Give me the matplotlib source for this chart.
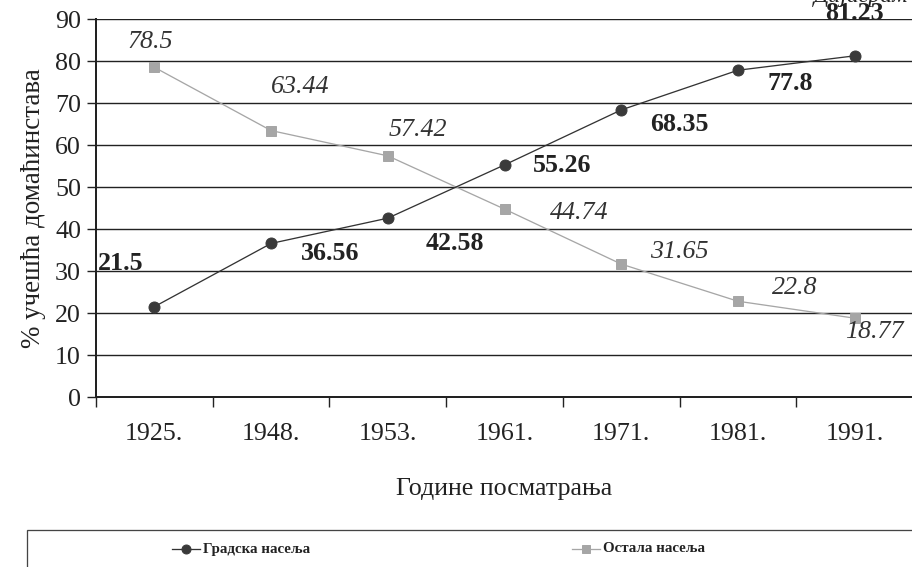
import matplotlib
matplotlib.use("Agg")
import matplotlib.pyplot as plt
from matplotlib.lines import Line2D
from matplotlib.patches import Rectangle

years = ["1925.", "1948.", "1953.", "1961.", "1971.", "1981.", "1991."]
urban = [21.5, 36.56, 42.58, 55.26, 68.35, 77.8, 81.23]
other = [78.5, 63.44, 57.42, 44.74, 31.65, 22.8, 18.77]
urban_name = "Градска насеља"
other_name = "Остала насеља"
ylabel = "% учешћа домаћинстава"
xlabel = "Године посматрања"

# label offsets in pixels (dpi=72 so points == pixels)
urban_off = [(-34, 43), (59, -10), (67, -25), (58, -1), (58, -15), (52, -13), (0, 42)]
other_off = [(-4, 25), (29, 44), (30, 26), (75, -4), (58, 12), (57, 13), (20, -14)]

plt.rcParams['font.family'] = ['Liberation Serif', 'DejaVu Serif']
W, H = 912, 567
fig = plt.figure(figsize=(W / 72, H / 72), dpi=72)
ax = fig.add_axes([96 / W, (H - 397) / H, 817 / W, (397 - 19) / H])

x = list(range(len(years)))
c_dark = "#333333"
c_gray = "#a6a6a6"
ax.plot(x, urban, color=c_dark, lw=1.3, marker='o', ms=11, mfc="#3a3a3a", mec="#3a3a3a", zorder=5)
ax.plot(x, other, color=c_gray, lw=1.3, marker='s', ms=10, mfc=c_gray, mec=c_gray, zorder=4)

for xi, v, off in zip(x, urban, urban_off):
    ax.annotate(f"{v:g}", (xi, v), xytext=off, textcoords='offset points',
                ha='center', va='center', fontsize=26, fontweight='bold', color="#222222", zorder=6)
for xi, v, off in zip(x, other, other_off):
    ax.annotate(f"{v:g}", (xi, v), xytext=off, textcoords='offset points',
                ha='center', va='center', fontsize=26, fontstyle='italic', color="#333333", zorder=6)

ax.set_xlim(-0.5, len(years) - 0.5)
ax.set_ylim(0, 90)
ax.set_yticks(range(0, 91, 10))
ax.yaxis.grid(True, color="#222222", lw=1.4)
ax.set_axisbelow(True)
ax.set_xticks(x)
ax.set_xticklabels(years, fontsize=26, color="#222222")
ax.tick_params(axis='x', which='major', length=0, pad=26)
ax.set_xticks([i + 0.5 for i in x[:-1]] + [-0.5], minor=True)
ax.tick_params(axis='x', which='minor', length=10, width=1.4, direction='out', color="#222222")
ax.tick_params(axis='y', length=9, width=1.4, direction='out', labelsize=26, labelcolor="#222222", pad=6, color="#222222")
for s in ['top', 'right']:
    ax.spines[s].set_visible(False)
ax.spines['left'].set_linewidth(2)
ax.spines['bottom'].set_linewidth(2)
ax.spines['left'].set_color("#222222")
ax.spines['bottom'].set_color("#222222")
ax.set_ylabel(ylabel, fontsize=27, color="#222222")
ax.yaxis.set_label_coords((46 - 96) / 817, 0.5)
ax.set_xlabel(xlabel, fontsize=26, color="#222222")
ax.xaxis.set_label_coords(0.5, -(478 - 397) / 378)
ax.xaxis.label.set_va('top')

# legend box
fig.add_artist(Rectangle((27 / W, -0.01), 1.0, (H - 530) / H + 0.01, transform=fig.transFigure,
                         fill=False, ec="#444444", lw=1.3))
ly = (H - 549) / H
fig.add_artist(Line2D([172 / W, 200 / W], [ly, ly], transform=fig.transFigure, color=c_dark, lw=1.3))
fig.add_artist(Line2D([186 / W], [ly], transform=fig.transFigure, color=c_dark, marker='o', ms=9, mfc="#3a3a3a", mec="#3a3a3a"))
fig.text(203 / W, ly, urban_name, fontsize=15, fontweight='bold', va='center', ha='left', color="#222222")
fig.add_artist(Line2D([572 / W, 600 / W], [ly, ly], transform=fig.transFigure, color=c_gray, lw=1.3))
fig.add_artist(Line2D([586 / W], [ly], transform=fig.transFigure, color=c_gray, marker='s', ms=8, mfc=c_gray, mec=c_gray))
fig.text(603 / W, ly, other_name, fontsize=15, fontweight='bold', va='center', ha='left', color="#222222")

fig.text(908 / W, (H - 2) / H, "Дијаграм", fontsize=24, fontstyle='italic', ha='right', va='baseline', color="#222222")

fig.savefig("out.png", dpi=72)
